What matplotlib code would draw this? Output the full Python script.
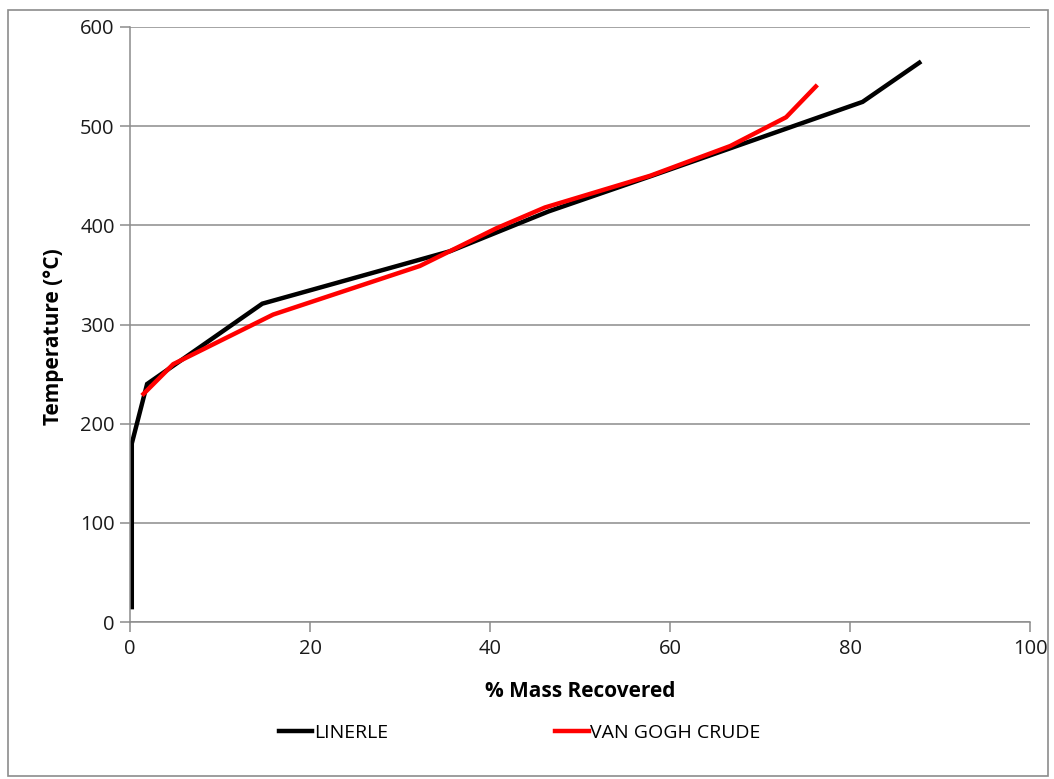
import matplotlib.pyplot as plt
from matplotlib.patches import Rectangle

# distillation curves
linerle_mass = [0.2, 0.2, 1.9, 14.7, 35.6, 46.5, 58.0, 81.4, 87.7]
linerle_temp = [15, 180, 240, 321, 374, 414, 450, 524.5, 564]

vangogh_mass = [1.5, 4.8, 15.9, 32.2, 40.7, 46.1, 57.8, 66.7, 72.9, 76.2]
vangogh_temp = [230, 260, 310, 359, 397, 418, 450, 480, 509, 540]

x_ticks = [0, 20, 40, 60, 80, 100]
y_ticks = [0, 100, 200, 300, 400, 500, 600]

plt.rcParams['font.family'] = ['Open Sans', 'DejaVu Sans']

W, H = 1054, 779
fig = plt.figure(figsize=(W / 100, H / 100), dpi=100)
ax = fig.add_axes([130 / W, 1 - 622 / H, 900 / W, 595 / H])

ax.plot(linerle_mass, linerle_temp, color='black', lw=3.2,
        solid_joinstyle='miter', label='LINERLE')
ax.plot(vangogh_mass, vangogh_temp, color='#ff0000', lw=3.2,
        label='VAN GOGH CRUDE')

ax.set_xlim(0, 100)
ax.set_ylim(0, 600)
ax.set_xticks(x_ticks)
ax.set_yticks(y_ticks)
ax.yaxis.grid(True, color='#8c8c8c', lw=1.1)
ax.set_axisbelow(True)
for s in ['top', 'right']:
    ax.spines[s].set_visible(False)
for s in ['left', 'bottom']:
    ax.spines[s].set_color('#8c8c8c')
    ax.spines[s].set_linewidth(1.1)
ax.tick_params(axis='both', color='#8c8c8c', length=7, width=1.1,
               labelsize=14.5, colors='#1a1a1a')
ax.tick_params(axis='x', pad=5)
ax.tick_params(axis='y', pad=4)

ax.set_xlabel('% Mass Recovered', fontsize=15, fontweight='bold', labelpad=16)
ax.set_ylabel('Temperature (°C)', fontsize=15, fontweight='bold')
ax.yaxis.set_label_coords(-0.073, 0.48)

fig.legend(loc='center', bbox_to_anchor=(520 / W, 1 - 733 / H), ncol=2,
           frameon=False, fontsize=14, handlelength=1.7, handletextpad=0.1,
           columnspacing=8.6)

# outer chart-area border
fig.patches.append(Rectangle((8 / W, 3 / H), 1040 / W, 766 / H,
                             transform=fig.transFigure, fill=False,
                             edgecolor='#8c8c8c', lw=1.2))

fig.savefig('out.png', dpi=100)
